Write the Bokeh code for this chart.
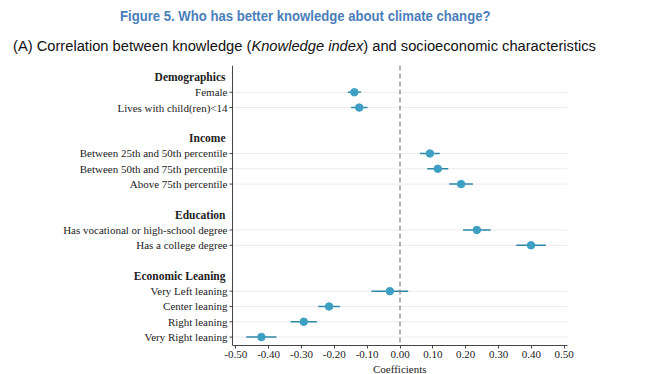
from bokeh.plotting import figure
from bokeh.layouts import column
from bokeh.models import Range1d, FixedTicker, Span, ColumnDataSource, NumeralTickFormatter, Div, Title
from bokeh.core.properties import value
from bokeh.embed import file_html
from bokeh.resources import INLINE

# ---- data ----
groups = ["Demographics", "Income", "Education", "Economic Leaning"]
group_items = [
    ["Female", "Lives with child(ren)<14"],
    ["Between 25th and 50th percentile", "Between 50th and 75th percentile", "Above 75th percentile"],
    ["Has vocational or high-school degree", "Has a college degree"],
    ["Very Left leaning", "Center leaning", "Right leaning", "Very Right leaning"],
]
coef = [-0.139, -0.124, 0.091, 0.115, 0.186, 0.234, 0.399, -0.031, -0.216, -0.293, -0.422]
ci_half = [0.020, 0.025, 0.030, 0.032, 0.036, 0.042, 0.045, 0.056, 0.033, 0.040, 0.046]
x_ticks = [-0.5, -0.4, -0.3, -0.2, -0.1, 0.0, 0.1, 0.2, 0.3, 0.4, 0.5]
x_label = "Coefficients"

title_text = "Figure 5. Who has better knowledge about climate change?"
sub1 = "(A) Correlation between knowledge ("
sub2 = "Knowledge index"
sub3 = ") and socioeconomic characteristics"

# ---- row layout ----
header_rows, item_rows, item_labels = [], [], []
r = 0
for g, items in zip(groups, group_items):
    header_rows.append(r)
    r += 1
    for it in items:
        item_rows.append(r)
        item_labels.append(it)
        r += 1
    r += 1
last_row = item_rows[-1]

W = 665
DIV_H = 60
FIG_H = 374 - DIV_H
SERIF = "Liberation Serif"
AX_LEFT_PX = 232          # pixel position of the y axis line
FRAME_W = 567             # frame spans from 0 to 567 px
XLO, XHI = -0.51, 0.51
x_per_px = (XHI - XLO) / (FRAME_W - AX_LEFT_PX)
xmin = XLO - AX_LEFT_PX * x_per_px
zero_px = AX_LEFT_PX + (0 - XLO) / x_per_px

header = Div(
    text=(
        '<div style="position:relative;width:665px;height:60px;">'
        '<div style="position:absolute;left:120px;top:6px;white-space:nowrap;'
        'transform:scaleX(0.875);transform-origin:0 50%;'
        'font-family:\'Liberation Sans\',Arial,sans-serif;font-weight:bold;'
        'font-size:15px;line-height:20px;color:#4a7ebb;">' + title_text + '</div>'
        '<div style="position:absolute;left:13px;top:36px;white-space:nowrap;'
        'font-family:\'Liberation Sans\',Arial,sans-serif;font-size:14.7px;line-height:20px;color:#111;">'
        + sub1 + '<i>' + sub2 + '</i>' + sub3 + '</div></div>'
    ),
    width=W, height=DIV_H, margin=(0, 0, 0, 0),
)

p = figure(width=W, height=FIG_H, output_backend="svg", toolbar_location=None,
           x_range=Range1d(xmin, XHI), y_range=Range1d(last_row + 0.55, -0.75),
           min_border_left=0, min_border_top=5, min_border_right=W - FRAME_W,
           min_border_bottom=0, margin=(0, 0, 0, 0))
p.outline_line_color = None
p.yaxis.visible = False
p.xgrid.grid_line_color = None
p.ygrid.grid_line_color = None

# x axis
p.xaxis.ticker = FixedTicker(ticks=x_ticks)
p.xaxis.formatter = NumeralTickFormatter(format="0.00")
p.xaxis.bounds = (XLO, XHI)
p.xaxis.major_label_text_font = SERIF
p.xaxis.major_label_text_font_size = "11px"
p.xaxis.major_label_standoff = 2
p.xaxis.major_tick_out = 3
p.xaxis.major_tick_in = 0
p.xaxis.minor_tick_line_color = None
p.xaxis.axis_line_color = "#444444"
p.xaxis.major_tick_line_color = "#444444"
p.xaxis.major_label_text_color = "#222222"

# x axis title, centred on the zero line
p.add_layout(Title(text=x_label, align="left", offset=zero_px - 27, standoff=0,
                   text_font=SERIF, text_font_style="normal", text_font_size="11px",
                   text_color="#222222"), "below")

# horizontal grid lines at item rows (within the plotting area)
p.segment(x0=[XLO] * len(item_rows), x1=[XHI] * len(item_rows), y0=item_rows, y1=item_rows,
          line_color="#ebebeb", line_width=1)

# y axis line and ticks
p.add_layout(Span(location=XLO, dimension="height", line_color="#444444", line_width=1))
tick_len = 3 * x_per_px
p.segment(x0=[XLO - tick_len] * len(item_rows), x1=[XLO] * len(item_rows),
          y0=item_rows, y1=item_rows, line_color="#444444", line_width=1)

# y labels
p.text(x=[XLO] * len(item_rows), y=item_rows, text=item_labels, x_offset=-5,
       text_align="right", text_baseline="middle", text_font=value(SERIF),
       text_font_size="11px", text_color="#222222")
p.text(x=[XLO] * len(header_rows), y=header_rows, text=groups, x_offset=-7,
       text_align="right", text_baseline="middle", text_font=value(SERIF),
       text_font_style="bold", text_font_size="11.5px", text_color="#222222")

# zero line
p.add_layout(Span(location=0, dimension="height", line_color="#808080",
                  line_dash="5 3", line_width=1.2))

src = ColumnDataSource(dict(
    y=item_rows, x=coef,
    lo=[c - h for c, h in zip(coef, ci_half)],
    hi=[c + h for c, h in zip(coef, ci_half)],
))
p.segment(x0="lo", x1="hi", y0="y", y1="y", source=src, line_color="#2f86a8", line_width=1.5)
p.scatter(x="x", y="y", source=src, size=7.5, fill_color="#3d9fc4", line_color="#3d9fc4")

layout = column(header, p, spacing=0, margin=(0, 0, 0, 0))
open("out.html", "w").write(file_html(layout, INLINE))
